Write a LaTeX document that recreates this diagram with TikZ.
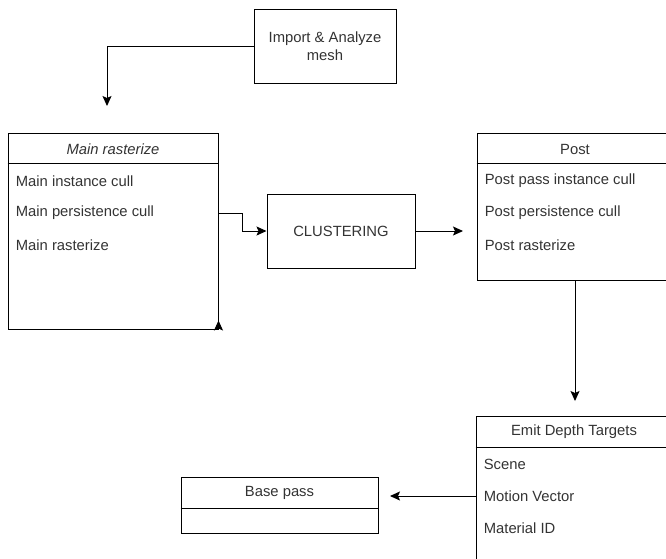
\documentclass[tikz,border=0pt]{standalone}
\usepackage{fontspec}
\setmainfont{Liberation Sans}
\usepackage{tikz}
\usetikzlibrary{calc}
\usetikzlibrary{arrows.meta}

\begin{document}
\begin{tikzpicture}[x=1pt, y=-1pt, line width=1pt,
    font=\fontsize{14.8}{18}\selectfont,
    every node/.style={text=black!80},
    arrow/.style={-{Stealth[length=10pt, width=9pt, inset=2pt]}}]
  \useasboundingbox (0,0) rectangle (666,558);

  % boxes
  \node [draw, minimum width=142, minimum height=74, align=center] (import) at (325,46) { Import \& Analyze\\mesh };
  \node [draw, minimum width=210, minimum height=196] (main) at (113,231) {};
  \node [draw, minimum width=148, minimum height=74] (cluster) at (341,231) { CLUSTERING };
  \node [draw, minimum width=196, minimum height=147] (post) at (575,206.5) {};
  \node [draw, minimum width=196, minimum height=154] (emit) at (574,493) {};
  \node [draw, minimum width=197, minimum height=56] (base) at (279.5,505) {};

  % header lines
  \draw ($(main.north west)+(0,31)$) -- ($(main.north east)+(0,31)$);
  \draw ($(post.north west)+(0,31)$) -- ($(post.north east)+(0,31)$);
  \draw ($(emit.north west)+(0,32)$) -- ($(emit.north east)+(0,32)$);
  \draw ($(base.north west)+(0,32)$) -- ($(base.north east)+(0,32)$);

  % headers
  \node (mainhead) at (113,149) { \textit{Main rasterize} };
  \node (posthead) at (575,149) { Post };
  \node (emithead) at (574,432) { Emit Depth Targets };
  \node (basehead) at (279.5,493) { Base pass };

  % items
  \node [anchor=west] (maininst) at (12,181) { Main instance cull };
  \node [anchor=west] (mainpersist) at (12,213) { Main persistence cull };
  \node [anchor=west] (mainrast) at (12,245) { Main rasterize };
  \node [anchor=west] (postinst) at (481,181) { Post pass instance cull };
  \node [anchor=west] (postpersist) at (481,213) { Post persistence cull };
  \node [anchor=west] (postrast) at (481,245) { Post rasterize };
  \node [anchor=west] (scene) at (480,464) { Scene };
  \node [anchor=west] (motion) at (480,496) { Motion Vector };
  \node [anchor=west] (material) at (480,528) { Material ID };

  % free arrow ends
  \coordinate (mainin) at (107,106);
  \coordinate (postin) at (463,231);
  \coordinate (emitin) at (575,401);
  \coordinate (basein) at (390,496);

  \draw [arrow] (import.west) -| (mainin);
  \draw [arrow] (main.east |- mainpersist) -- ++(24,0) |- (cluster.west);
  \draw [arrow] (cluster.east) -- (postin);
  \draw [arrow] (post.south) -- (emitin);
  \draw [arrow] (emit.west |- motion) -- (basein);
  \draw [arrow] (main.south east) -- ++(0,-9);
\end{tikzpicture}
\end{document}
